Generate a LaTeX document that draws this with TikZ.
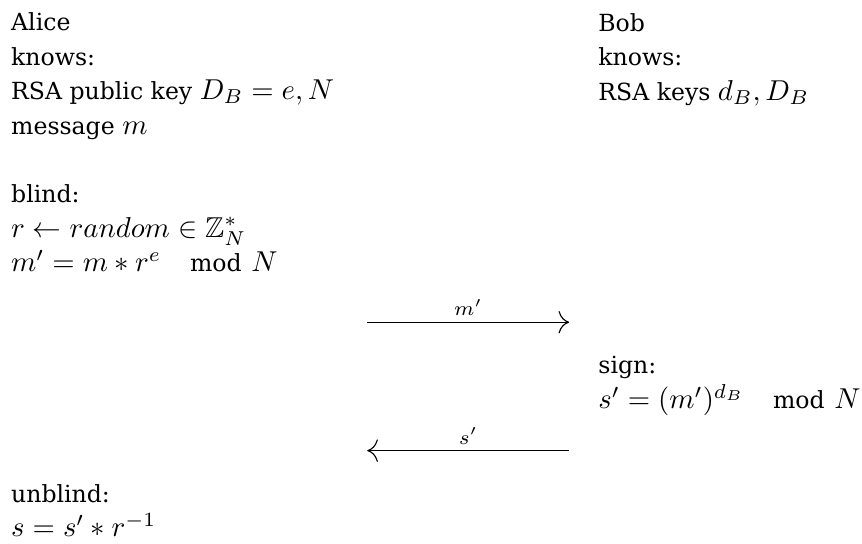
\documentclass[tikz,border=0pt]{standalone}
\usepackage{amsmath,amssymb}
\usepackage{fontspec}
\setmainfont[Scale=0.82]{DejaVu Serif}
\usetikzlibrary{arrows.meta}

\tikzset{
  partytext/.style={anchor=base west, inner sep=0pt},
  msgarrow/.style={-{Computer Modern Rightarrow[scale=1.5]}, thin},
  msglabel/.style={above, font=\scriptsize, inner sep=2pt}
}

\begin{document}
\begin{tikzpicture}
      \useasboundingbox (0,0) rectangle (10.54,-6.65);

      % Alice
      \node[partytext] (alice) at (0.13,-0.375) {\begin{tabular}[t]{@{}l@{}}
          Alice\\ knows:\\ RSA public key $D_B = e, N$\\ message $m$
        \end{tabular}};
      \node[partytext] (blind) at (0.13,-2.48) {\begin{tabular}[t]{@{}l@{}}
          blind:\\ $r \leftarrow random \in \mathbb{Z}_N^*$\\
          $m' = m * r^e \mkern18mu \mathrm{mod}\,\,N$
        \end{tabular}};

      % Bob
      \node[partytext] (bob) at (7.31,-0.38) {\begin{tabular}[t]{@{}l@{}}
          Bob\\ knows:\\ RSA keys $d_B, D_B$
        \end{tabular}};
      \node[partytext] (sign) at (7.31,-4.57) {\begin{tabular}[t]{@{}l@{}}
          sign:\\ $s' = (m')^{d_B} \mkern18mu \mathrm{mod}\,\,N$
        \end{tabular}};

      % Alice
      \node[partytext] (unblind) at (0.13,-6.14) {\begin{tabular}[t]{@{}l@{}}
          unblind:\\ $s = s' * r^{-1}$
        \end{tabular}};

      % Nachrichten
      \coordinate (msgA) at (4.49,-3.94);
      \coordinate (msgB) at (6.96,-3.94);
      \draw[msgarrow] (msgA) -- node[msglabel] {$m'$} (msgB);

      \coordinate (sigB) at (6.96,-5.51);
      \coordinate (sigA) at (4.49,-5.51);
      \draw[msgarrow] (sigB) -- node[msglabel] {$s'$} (sigA);
\end{tikzpicture}
\end{document}
